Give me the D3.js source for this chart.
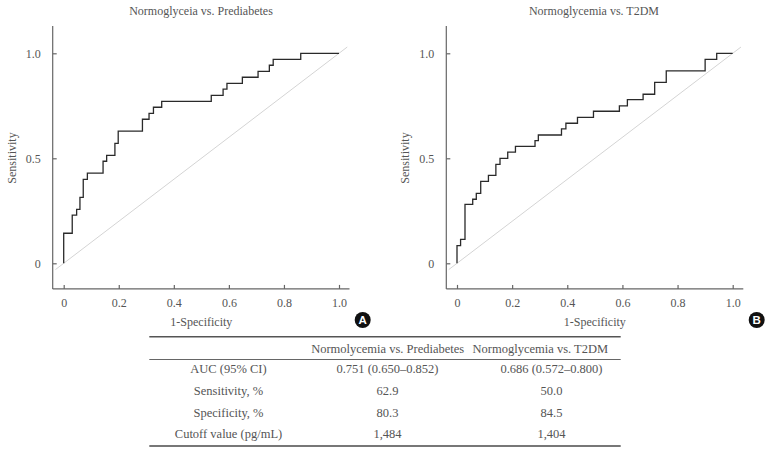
<!DOCTYPE html>
<html><head><meta charset="utf-8">
<script src="https://cdn.jsdelivr.net/npm/d3@7"></script>
<style>body{margin:0;background:#fff}svg{display:block}text{font-family:'Liberation Serif','Times New Roman',serif}</style>
</head><body>
<svg id="c" width="772" height="454"></svg>
<script>
// ---- data ----
const titles = ["Normoglyceia vs. Prediabetes", "Normoglycemia vs. T2DM"];
const panelTags = ["A", "B"];
const xTicks = [0, 0.2, 0.4, 0.6, 0.8, 1.0];
const xTickLabels = ["0", "0.2", "0.4", "0.6", "0.8", "1.0"];
const yTicks = [0, 0.5, 1.0];
const yTickLabels = ["0", "0.5", "1.0"];
// ROC corner points [1-specificity, sensitivity]
const rocA = [[0,0],[0,0.143],[0.031,0.229],[0.047,0.257],[0.059,0.314],[0.071,0.400],[0.086,0.429],
  [0.143,0.486],[0.156,0.514],[0.186,0.571],[0.198,0.629],[0.286,0.686],[0.310,0.714],[0.326,0.743],
  [0.356,0.771],[0.536,0.800],[0.579,0.829],[0.593,0.857],[0.649,0.886],[0.706,0.914],[0.747,0.943],
  [0.761,0.971],[0.861,1.0],[1.0,1.0]];
const rocB = [[0,0],[0,0.084],[0.013,0.114],[0.029,0.281],[0.057,0.305],[0.070,0.333],[0.086,0.390],
  [0.114,0.419],[0.141,0.471],[0.156,0.500],[0.184,0.529],[0.212,0.557],[0.283,0.584],[0.295,0.611],
  [0.379,0.640],[0.395,0.667],[0.437,0.695],[0.495,0.724],[0.589,0.750],[0.618,0.779],[0.675,0.805],
  [0.717,0.862],[0.759,0.916],[0.900,0.971],[0.942,1.0],[1.0,1.0]];
const tableHeader = ["", "Normolycemia vs. Prediabetes", "Normoglycemia vs. T2DM"];
const rowLabels = ["AUC (95% CI)", "Sensitivity, %", "Specificity, %", "Cutoff value (pg/mL)"];
const colPrediabetes = ["0.751 (0.650\u20130.852)", "62.9", "80.3", "1,484"];
const colT2DM = ["0.686 (0.572\u20130.800)", "50.0", "84.5", "1,404"];

// ---- drawing ----
const svg = d3.select("#c");
const serif = "'Liberation Serif','Times New Roman',serif";
const txt = "#555";

const panels = [
  {roc: rocA, x0: 63.7, x1: 339.0, axL: 52.7, axR: 349.5, title: titles[0], titleX: 201, ylabX: 11.5, tag: panelTags[0], tagX: 362.7},
  {roc: rocB, x0: 457.0, x1: 732.7, axL: 446.3, axR: 743.3, title: titles[1], titleX: 594, ylabX: 405, tag: panelTags[1], tagX: 756.7}
];

panels.forEach(p => {
  const x = d3.scaleLinear().domain([0, 1]).range([p.x0, p.x1]);
  const y = d3.scaleLinear().domain([0, 1]).range([263.3, 53.3]);
  const g = svg.append("g");
  const yTop = y(1.13), yBot = y(-0.122);

  // diagonal reference
  g.append("line")
    .attr("x1", x(-0.03)).attr("y1", y(-0.03))
    .attr("x2", x(1.03)).attr("y2", y(1.03))
    .attr("stroke", "#d4d4d4").attr("stroke-width", 1);

  // axes
  const xAxis = d3.axisBottom(x).tickValues(xTicks).tickFormat((d, i) => xTickLabels[i])
    .tickSizeInner(-4).tickSizeOuter(0).tickPadding(10);
  const xa = g.append("g").attr("transform", `translate(0,${yBot})`).call(xAxis);
  xa.select(".domain").remove();
  xa.append("line").attr("x1", p.axL).attr("x2", p.axR).attr("y1", 0).attr("y2", 0)
    .attr("stroke", "#666").attr("stroke-width", 1.2);

  const yAxis = d3.axisLeft(y).tickValues(yTicks).tickFormat((d, i) => yTickLabels[i])
    .tickSizeInner(-4).tickSizeOuter(0).tickPadding(12);
  const ya = g.append("g").attr("transform", `translate(${p.axL},0)`).call(yAxis);
  ya.select(".domain").remove();
  ya.append("line").attr("x1", 0).attr("x2", 0).attr("y1", yTop).attr("y2", yBot)
    .attr("stroke", "#666").attr("stroke-width", 1.2);

  [xa, ya].forEach(a => {
    a.attr("font-family", serif).attr("font-size", 12);
    a.selectAll(".tick line").attr("stroke", "#666").attr("stroke-width", 1.2);
    a.selectAll(".tick text").attr("fill", txt).attr("font-family", serif)
      .style("font-family", serif).style("font-size", "12px");
  });
  xa.selectAll(".tick text").attr("dy", "0.71em");

  // ROC curve
  const line = d3.line().x(d => x(d[0])).y(d => y(d[1])).curve(d3.curveStepAfter);
  g.append("path").datum(p.roc).attr("d", line)
    .attr("fill", "none").attr("stroke", "#2a2a2a").attr("stroke-width", 1.3);

  // titles and labels
  g.append("text").attr("x", p.titleX).attr("y", 15).attr("text-anchor", "middle")
    .attr("fill", txt).style("font-family", serif).style("font-size", "12px").text(p.title);
  g.append("text").attr("x", (p.x0 + p.x1) / 2).attr("y", 325.5).attr("text-anchor", "middle")
    .attr("fill", txt).style("font-family", serif).style("font-size", "12px").text("1-Specificity");
  g.append("text").attr("transform", `translate(${p.ylabX + 4},158) rotate(-90)`).attr("text-anchor", "middle")
    .attr("fill", txt).style("font-family", serif).style("font-size", "12px").text("Sensitivity");

  // panel tag
  g.append("circle").attr("cx", p.tagX).attr("cy", 320).attr("r", 8).attr("fill", "#111");
  g.append("text").attr("x", p.tagX).attr("y", 324.2).attr("text-anchor", "middle")
    .attr("fill", "#fff").style("font-family", "'Liberation Sans',Arial,sans-serif")
    .style("font-weight", "bold").style("font-size", "11.5px").text(p.tag);
});

// ---- table ----
const tbl = svg.append("g");
const tL = 149.3, tR = 620.7;
tbl.append("line").attr("x1", tL).attr("x2", tR).attr("y1", 336.7).attr("y2", 336.7)
  .attr("stroke", "#555").attr("stroke-width", 1.5);
tbl.append("line").attr("x1", tL).attr("x2", tR).attr("y1", 359.5).attr("y2", 359.5)
  .attr("stroke", "#666").attr("stroke-width", 1);
tbl.append("line").attr("x1", tL).attr("x2", tR).attr("y1", 446).attr("y2", 446)
  .attr("stroke", "#777").attr("stroke-width", 1.8);

const tStyle = s => s.attr("fill", txt).attr("text-anchor", "middle")
  .style("font-family", serif).style("font-size", "12.5px");
tbl.append("text").attr("x", 387.7).attr("y", 352.7).call(tStyle).text(tableHeader[1]);
tbl.append("text").attr("x", 540.3).attr("y", 352.7).call(tStyle).text(tableHeader[2]);
const rowY = d3.scalePoint().domain(d3.range(rowLabels.length)).range([373.3, 438.3]);
rowLabels.forEach((lab, i) => {
  tbl.append("text").attr("x", 228.5).attr("y", rowY(i)).call(tStyle).text(lab);
  tbl.append("text").attr("x", 387.5).attr("y", rowY(i)).call(tStyle).text(colPrediabetes[i]);
  tbl.append("text").attr("x", 551.5).attr("y", rowY(i)).call(tStyle).text(colT2DM[i]);
});
</script>
</body></html>
